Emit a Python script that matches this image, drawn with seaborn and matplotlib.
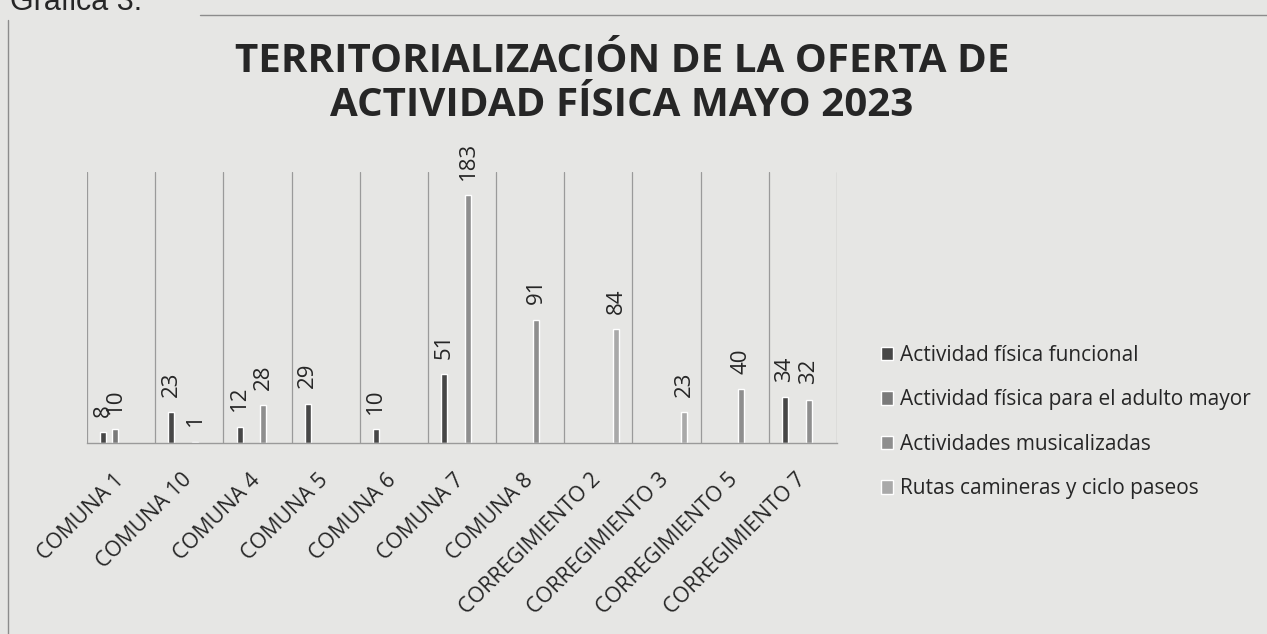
#!/usr/bin/env python3
"""Gráfica 3: territorialización de la oferta de actividad física, mayo 2023."""

import matplotlib

matplotlib.use("Agg")
import matplotlib.pyplot as plt
import matplotlib.transforms as mtransforms
import numpy as np
import pandas as pd
import seaborn as sns
from matplotlib.lines import Line2D

CATEGORIES = [
    "COMUNA 1", "COMUNA 10", "COMUNA 4", "COMUNA 5", "COMUNA 6", "COMUNA 7",
    "COMUNA 8", "CORREGIMIENTO 2", "CORREGIMIENTO 3", "CORREGIMIENTO 5",
    "CORREGIMIENTO 7",
]
SERIES = [
    "Actividad física funcional",
    "Actividad física para el adulto mayor",
    "Actividades musicalizadas",
    "Rutas camineras y ciclo paseos",
]
FUNCIONAL = [8, 23, 12, 29, 10, 51, None, None, None, None, 34]
ADULTO_MAYOR = [10, None, None, None, None, None, None, None, None, None, None]
MUSICALIZADAS = [None, 1, 28, None, None, 183, 91, None, None, 40, 32]
RUTAS = [None, None, None, None, None, None, None, 84, 23, None, None]

COLORS = ["#474747", "#7a7a7a", "#8e8e8e", "#a9a9a9"]
BG = "#e6e6e4"
TXT = "#262626"
W, H = 1267, 634


def main() -> None:
    sns.set_theme(style="white")
    plt.rcParams["font.family"] = ["Open Sans", "DejaVu Sans"]

    rows = []
    for serie, vals in zip(SERIES, [FUNCIONAL, ADULTO_MAYOR, MUSICALIZADAS, RUTAS]):
        for cat, v in zip(CATEGORIES, vals):
            if v is not None:
                rows.append({"zona": cat, "serie": serie, "valor": v})
    df = pd.DataFrame(rows)

    fig = plt.figure(figsize=(W / 100, H / 100), dpi=100, facecolor=BG)
    ax = fig.add_axes([87 / W, 191 / H, 750 / W, 271 / H])
    ax.set_facecolor(BG)

    sns.barplot(
        data=df, x="zona", y="valor", hue="serie",
        order=CATEGORIES, hue_order=SERIES, palette=COLORS,
        width=0.7, gap=0.5, errorbar=None, ax=ax,
    )

    for cont in ax.containers:
        ax.bar_label(cont, fmt="{:.0f}", rotation=90, padding=11,
                     fontsize=16, color=TXT)

    ax.set_ylim(0, 200)
    ax.set_xlim(-0.5, len(CATEGORIES) - 0.5)
    ax.set_yticks([])
    ax.set_xlabel("")
    ax.set_ylabel("")
    ax.set_xticks(np.arange(-0.5, len(CATEGORIES), 1), minor=True)
    ax.grid(which="minor", axis="x", color="#9a9a9a", linewidth=0.9)
    ax.tick_params(axis="x", which="both", length=0, pad=19)
    ax.set_xticks(range(len(CATEGORIES)))
    ax.set_xticklabels(CATEGORIES, rotation=45, ha="right",
                       rotation_mode="anchor", fontsize=15.5, color=TXT)
    shift = mtransforms.ScaledTranslation(-8 / 100, 0, fig.dpi_scale_trans)
    for lab in ax.get_xticklabels():
        lab.set_transform(lab.get_transform() + shift)
    for s in ("top", "left", "right"):
        ax.spines[s].set_visible(False)
    ax.spines["bottom"].set_color("#9a9a9a")
    ax.spines["bottom"].set_linewidth(1.0)

    handles, labels = ax.get_legend_handles_labels()
    ax.legend_.remove()
    fig.legend(
        handles, labels, loc="upper left",
        bbox_to_anchor=(862 / W, 1 - 326 / H), frameon=False,
        handlelength=0.6, handleheight=0.6, handletextpad=0.3,
        labelspacing=1.13, fontsize=15, labelcolor=TXT,
    )

    fig.text(622 / W, 1 - 62 / H, "TERRITORIALIZACIÓN DE LA OFERTA DE",
             ha="center", va="center", fontsize=29, fontweight="bold", color=TXT)
    fig.text(622 / W, 1 - 105 / H, "ACTIVIDAD FÍSICA MAYO 2023",
             ha="center", va="center", fontsize=29, fontweight="bold", color=TXT)
    fig.text(10 / W, 1 - 10 / H, "Gráfica 3.", ha="left", va="baseline",
             fontsize=22, color=TXT, family=["Liberation Sans", "DejaVu Sans"])

    fig.add_artist(Line2D([8 / W, 8 / W], [0, 1 - 20 / H],
                          transform=fig.transFigure, color="#8c8c8c", lw=1))
    fig.add_artist(Line2D([200 / W, 1], [1 - 15 / H, 1 - 15 / H],
                          transform=fig.transFigure, color="#8c8c8c", lw=1))

    fig.savefig("out.png", dpi=100, facecolor=BG)
    plt.close(fig)


if __name__ == "__main__":
    main()
